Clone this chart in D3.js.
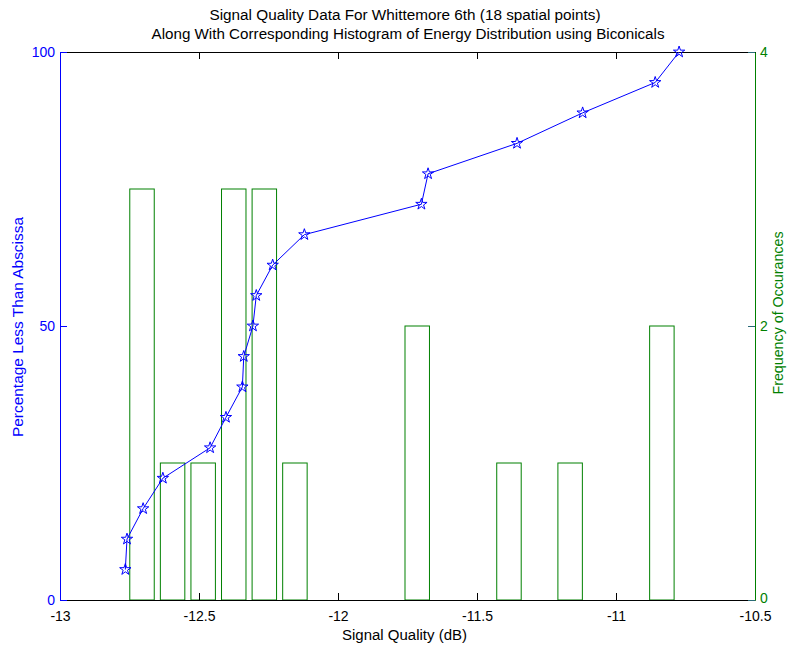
<!DOCTYPE html>
<html>
<head>
<meta charset="utf-8">
<script src="https://cdn.jsdelivr.net/npm/d3@7"></script>
<style>
  body { margin: 0; background: #fff; }
  text { font-family: "Liberation Sans", Arial, sans-serif; }
</style>
</head>
<body>
<svg width="788" height="645"></svg>
<script>
// sorted signal quality values and cumulative percentage
const signal = [-12.765, -12.759, -12.701, -12.630, -12.460, -12.403, -12.344, -12.339, -12.306,
                -12.294, -12.235, -12.121, -11.700, -11.676, -11.356, -11.120, -10.859, -10.773];
const percent = [5.56, 11.11, 16.67, 22.22, 27.78, 33.33, 38.89, 44.44, 50,
                 55.56, 61.11, 66.67, 72.22, 77.78, 83.33, 88.89, 94.44, 100];

// histogram bins (18 bins)
const binCenters = [-12.705, -12.595, -12.485, -12.375, -12.265, -12.155, -12.045, -11.935, -11.825,
                    -11.715, -11.605, -11.495, -11.385, -11.275, -11.165, -11.055, -10.945, -10.835];
const counts = [3, 1, 1, 3, 3, 1, 0, 0, 0, 2, 0, 0, 1, 0, 1, 0, 0, 2];
const barWidth = 0.088;

const xTicks = [-13, -12.5, -12, -11.5, -11, -10.5];
const leftTicks = [0, 50, 100];
const rightTicks = [0, 2, 4];

const blue = '#0000ff';
const green = '#008000';

const svg = d3.select('svg');
const mLeft = 60, mRight = 755, mTop = 52, mBottom = 600;

const x = d3.scaleLinear().domain([-13, -10.5]).range([mLeft, mRight]);
const yL = d3.scaleLinear().domain([0, 100]).range([mBottom, mTop]);
const yR = d3.scaleLinear().domain([0, 4]).range([mBottom, mTop]);

// title
svg.append('text')
    .attr('x', 405).attr('y', 20)
    .attr('text-anchor', 'middle')
    .attr('textLength', 391).attr('lengthAdjust', 'spacingAndGlyphs')
    .style('font-size', '14px')
    .text('Signal Quality Data For Whittemore 6th (18 spatial points)');
svg.append('text')
    .attr('x', 408).attr('y', 38.5)
    .attr('text-anchor', 'middle')
    .attr('textLength', 513).attr('lengthAdjust', 'spacingAndGlyphs')
    .style('font-size', '14px')
    .text('Along With Corresponding Histogram of Energy Distribution using Biconicals');

// histogram bars
svg.append('g').selectAll('rect')
    .data(binCenters)
    .enter()
    .append('rect')
    .attr('x', d => x(d - barWidth / 2))
    .attr('width', x(-13 + barWidth) - x(-13))
    .attr('y', (d, i) => yR(counts[i]))
    .attr('height', (d, i) => yR(0) - yR(counts[i]))
    .attr('fill', 'none')
    .attr('stroke', green)
    .attr('stroke-width', 1);

// x axis bottom and top
const xAxis = svg.append('g').attr('transform', `translate(0,${mBottom})`)
    .call(d3.axisBottom(x).tickValues(xTicks).tickSizeInner(-7).tickSizeOuter(0)
        .tickFormat(d => d));
xAxis.select('.domain').attr('stroke', '#000');
xAxis.selectAll('text').attr('dy', '1.25em').style('font-size', '14px').attr('fill', '#000');

const xTop = svg.append('g').attr('transform', `translate(0,${mTop})`)
    .call(d3.axisTop(x).tickValues(xTicks).tickSizeInner(-7).tickSizeOuter(0).tickFormat(''));

// left axis
const yAxisL = svg.append('g').attr('transform', `translate(${mLeft},0)`)
    .call(d3.axisLeft(yL).tickValues(leftTicks).tickSizeInner(-7).tickSizeOuter(0));
yAxisL.select('.domain').attr('stroke', blue);
yAxisL.selectAll('line').attr('stroke', blue);
yAxisL.selectAll('text').attr('x', -5).attr('fill', blue).style('font-size', '14px');

// right axis
const yAxisR = svg.append('g').attr('transform', `translate(${mRight},0)`)
    .call(d3.axisRight(yR).tickValues(rightTicks).tickSizeInner(-7).tickSizeOuter(0)
        .tickFormat(d3.format('d')));
yAxisR.select('.domain').attr('stroke', green);
yAxisR.selectAll('line').attr('stroke', '#2a6a78');
yAxisR.selectAll('text').attr('x', 5).attr('fill', green).style('font-size', '14px')
    .attr('dy', d => d === 0 ? '0.2em' : '0.32em');

// cumulative line
const line = d3.line()
    .x((d, i) => x(signal[i]))
    .y(d => yL(d));

svg.append('path')
    .datum(percent)
    .attr('d', line)
    .attr('fill', 'none')
    .attr('stroke', blue)
    .attr('stroke-width', 1);

svg.append('g').selectAll('path')
    .data(percent)
    .enter()
    .append('path')
    .attr('d', d3.symbol().type(d3.symbolStar).size(40))
    .attr('transform', (d, i) => `translate(${x(signal[i])},${yL(d)})`)
    .attr('fill', 'none')
    .attr('stroke', blue)
    .attr('stroke-width', 1);

// axis labels
svg.append('text')
    .attr('x', 404.5).attr('y', 640)
    .attr('text-anchor', 'middle')
    .attr('textLength', 125).attr('lengthAdjust', 'spacingAndGlyphs')
    .style('font-size', '14px')
    .text('Signal Quality (dB)');

svg.append('text')
    .attr('transform', 'translate(23,327) rotate(-90)')
    .attr('text-anchor', 'middle')
    .attr('textLength', 220).attr('lengthAdjust', 'spacingAndGlyphs')
    .attr('fill', blue)
    .style('font-size', '14px')
    .text('Percentage Less Than Abscissa');

svg.append('text')
    .attr('transform', 'translate(783,313) rotate(-90)')
    .attr('text-anchor', 'middle')
    .attr('textLength', 163).attr('lengthAdjust', 'spacingAndGlyphs')
    .attr('fill', green)
    .style('font-size', '14px')
    .text('Frequency of Occurances');
</script>
</body>
</html>
